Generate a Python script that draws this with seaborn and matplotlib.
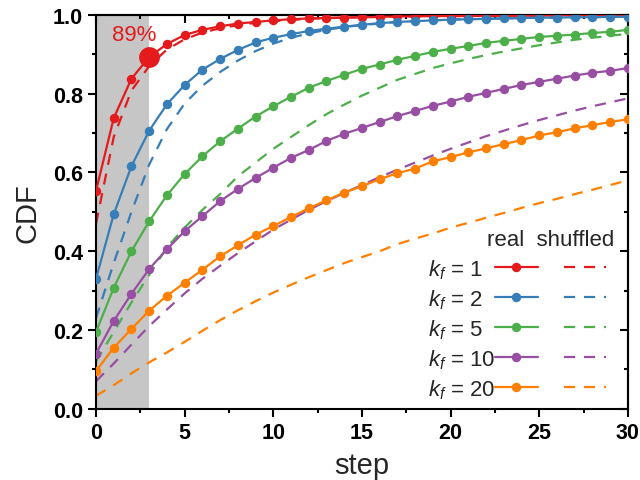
import numpy as np
import pandas as pd
import matplotlib
matplotlib.use("Agg")
import matplotlib.pyplot as plt
from matplotlib.lines import Line2D
from matplotlib.ticker import MultipleLocator
import seaborn as sns

# ---------------- data ----------------
steps = list(range(31))
kf_values = [1, 2, 5, 10, 20]
colors = ["#e41a1c", "#377eb8", "#4daf4a", "#984ea3", "#ff7f00"]

real_k1 = [0.553, 0.738, 0.838, 0.893, 0.926, 0.949, 0.962, 0.971, 0.978, 0.982, 0.986,
           0.989, 0.991, 0.992, 0.993, 0.994, 0.995, 0.996, 0.996, 0.997, 0.997,
           0.997, 0.998, 0.998, 0.998, 0.998, 0.999, 0.999, 0.999, 0.999, 0.999]
shuf_k1 = [0.470, 0.690, 0.808, 0.870, 0.912, 0.938, 0.955, 0.966, 0.974, 0.980, 0.984,
           0.987, 0.990, 0.992, 0.993, 0.994, 0.995, 0.996, 0.996, 0.997, 0.997,
           0.997, 0.998, 0.998, 0.998, 0.998, 0.999, 0.999, 0.999, 0.999, 0.999]
real_k2 = [0.330, 0.494, 0.616, 0.706, 0.773, 0.822, 0.861, 0.888, 0.911, 0.930, 0.942,
           0.951, 0.959, 0.965, 0.970, 0.975, 0.979, 0.982, 0.984, 0.986, 0.988,
           0.989, 0.990, 0.991, 0.992, 0.993, 0.993, 0.994, 0.994, 0.995, 0.995]
shuf_k2 = [0.230, 0.370, 0.500, 0.620, 0.710, 0.775, 0.820, 0.855, 0.884, 0.908, 0.927,
           0.942, 0.953, 0.962, 0.969, 0.974, 0.978, 0.982, 0.984, 0.986, 0.988,
           0.989, 0.990, 0.991, 0.992, 0.993, 0.993, 0.994, 0.994, 0.995, 0.995]
real_k5 = [0.195, 0.307, 0.400, 0.476, 0.542, 0.596, 0.641, 0.679, 0.711, 0.742, 0.768,
           0.792, 0.815, 0.832, 0.848, 0.863, 0.874, 0.886, 0.896, 0.906, 0.914,
           0.921, 0.929, 0.934, 0.939, 0.944, 0.947, 0.950, 0.954, 0.957, 0.962]
shuf_k5 = [0.120, 0.195, 0.270, 0.340, 0.410, 0.460, 0.505, 0.545, 0.590, 0.625, 0.660,
           0.690, 0.720, 0.748, 0.772, 0.795, 0.815, 0.835, 0.850, 0.865, 0.877,
           0.888, 0.898, 0.907, 0.915, 0.923, 0.930, 0.937, 0.942, 0.947, 0.952]
real_k10 = [0.140, 0.223, 0.292, 0.355, 0.405, 0.451, 0.489, 0.527, 0.558, 0.586, 0.612,
            0.637, 0.657, 0.680, 0.698, 0.713, 0.728, 0.743, 0.756, 0.769, 0.780,
            0.792, 0.802, 0.812, 0.822, 0.830, 0.838, 0.846, 0.853, 0.858, 0.865]
shuf_k10 = [0.070, 0.115, 0.163, 0.210, 0.252, 0.293, 0.330, 0.363, 0.395, 0.425, 0.455,
            0.480, 0.505, 0.527, 0.548, 0.568, 0.588, 0.607, 0.625, 0.643, 0.660,
            0.676, 0.692, 0.706, 0.720, 0.733, 0.745, 0.757, 0.768, 0.778, 0.788]
real_k20 = [0.096, 0.155, 0.203, 0.249, 0.287, 0.320, 0.353, 0.387, 0.415, 0.442, 0.464,
            0.487, 0.509, 0.529, 0.549, 0.565, 0.583, 0.598, 0.610, 0.628, 0.639,
            0.651, 0.661, 0.672, 0.682, 0.694, 0.702, 0.712, 0.720, 0.728, 0.735]
shuf_k20 = [0.033, 0.060, 0.090, 0.118, 0.143, 0.170, 0.198, 0.225, 0.250, 0.273, 0.295,
            0.315, 0.334, 0.352, 0.370, 0.385, 0.400, 0.418, 0.432, 0.445, 0.460,
            0.472, 0.485, 0.497, 0.510, 0.522, 0.533, 0.545, 0.556, 0.568, 0.580]

real_series = [real_k1, real_k2, real_k5, real_k10, real_k20]
shuf_series = [shuf_k1, shuf_k2, shuf_k5, shuf_k10, shuf_k20]

highlight_step = 3
highlight_label = "89%"
shade_range = (0, 3)
xticks = [0, 5, 10, 15, 20, 25, 30]
yticks = [0.0, 0.2, 0.4, 0.6, 0.8, 1.0]

# ---------------- style ----------------
sns.set_theme(style="ticks")
plt.rcParams["font.family"] = ["Liberation Sans", "DejaVu Sans"]
plt.rcParams["mathtext.fontset"] = "custom"
plt.rcParams["mathtext.rm"] = "Liberation Sans"
plt.rcParams["mathtext.it"] = "Liberation Sans:italic"
plt.rcParams["mathtext.bf"] = "Liberation Sans:bold"

fig = plt.figure(figsize=(6.4, 4.81), dpi=100)
ax = fig.add_axes([0.15, 0.148, 0.831, 0.819])

ax.axvspan(shade_range[0], shade_range[1], color="#c6c6c6", lw=0, zorder=0)

lw = 1.6
ms = 6.8
dash = (0, (5, 4))
for real, shuf, c in zip(real_series, shuf_series, colors):
    sns.lineplot(x=steps, y=shuf, color=c, linewidth=lw, linestyle=dash,
                 legend=False, ax=ax, zorder=2)
    sns.lineplot(x=steps, y=real, color=c, linewidth=lw, marker="o",
                 markersize=ms, markeredgewidth=0, legend=False, ax=ax, zorder=3)

# highlighted point
ax.plot([steps[highlight_step]], [real_k1[highlight_step]], "o", color=colors[0],
        markersize=15, markeredgewidth=0, zorder=4)
ax.text(2.17, 0.949, highlight_label, color=colors[0], fontsize=16,
        ha="center", va="center")

ax.set_xlim(0, 30)
ax.set_ylim(0, 1.0)
ax.set_xticks(xticks)
ax.set_yticks(yticks)
ax.set_xticklabels([str(t) for t in xticks])
ax.set_yticklabels([f"{t:.1f}" for t in yticks])
ax.xaxis.set_minor_locator(MultipleLocator(2.5))
ax.yaxis.set_minor_locator(MultipleLocator(0.1))
ax.tick_params(which="major", direction="out", length=5.5, width=1.5, labelsize=15.5,
               color="black", labelcolor="black", pad=4)
ax.tick_params(which="minor", direction="out", length=3, width=1.5, color="black")
for lab in ax.get_xticklabels() + ax.get_yticklabels():
    lab.set_fontweight("bold")

for s in ax.spines.values():
    s.set_linewidth(1.5)
    s.set_color("black")

# inward ticks on top and right
secx = ax.secondary_xaxis("top")
secx.set_xticks(xticks)
secx.xaxis.set_minor_locator(MultipleLocator(2.5))
secx.tick_params(which="major", direction="in", length=5.5, width=1.5, labeltop=False, color="black")
secx.tick_params(which="minor", direction="in", length=3, width=1.5, color="black")
secx.spines["top"].set_linewidth(1.5)
secy = ax.secondary_yaxis("right")
secy.set_yticks(yticks)
secy.yaxis.set_minor_locator(MultipleLocator(0.1))
secy.tick_params(which="major", direction="in", length=5.5, width=1.5, labelright=False, color="black")
secy.tick_params(which="minor", direction="in", length=3, width=1.5, color="black")
secy.spines["right"].set_linewidth(1.5)

ax.set_xlabel("step", fontsize=21, labelpad=6)
ax.set_ylabel("CDF", fontsize=21, labelpad=8)

# legend: handles only, labels placed left-aligned afterwards
handles = [Line2D([], [], color=c, lw=lw, marker="o", markersize=ms, markeredgewidth=0)
           for c in colors]
handles += [Line2D([], [], color=c, lw=lw, linestyle=dash) for c in colors]
leg = ax.legend(handles, [""] * len(handles), ncol=2, frameon=False,
                fontsize=16, title="real  shuffled", title_fontsize=16,
                loc="lower right", bbox_to_anchor=(0.975, 0.024),
                handlelength=1.9, handletextpad=0.0, columnspacing=1.2,
                labelspacing=0.4, borderpad=0.0, borderaxespad=0.0)

fig.canvas.draw()
inv = ax.transAxes.inverted()
label_x = 0.624
for h, k in zip(leg.legend_handles[:5], kf_values):
    bb = h.get_window_extent()
    yc = (bb.y0 + bb.y1) / 2.0
    _, y_ax = inv.transform((0, yc - 8.5))
    ax.text(label_x, y_ax, f"$k_f$ = {k}", transform=ax.transAxes, fontsize=16,
            ha="left", va="baseline")

fig.savefig("out.png", dpi=100)
